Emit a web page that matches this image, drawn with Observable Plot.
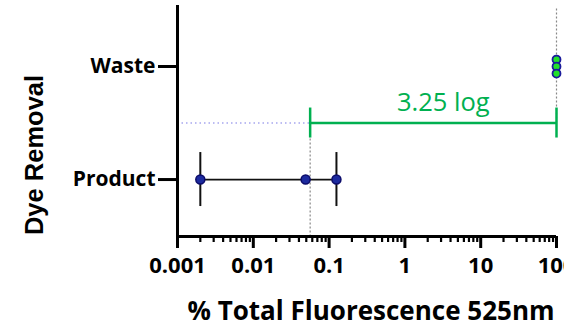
<!DOCTYPE html>
<html>
<head>
<meta charset="utf-8">
<script src="https://cdn.jsdelivr.net/npm/d3@7"></script>
<script src="https://cdn.jsdelivr.net/npm/@observablehq/plot@0.6"></script>
<style>
  html, body { margin: 0; padding: 0; background: #fff; overflow: hidden; }
  #chart { width: 564px; height: 324px; }
</style>
</head>
<body>
<div id="chart"></div>
<script>
// ---- data ----
const groups = ["Product", "Waste"];
const productValues = [0.002, 0.049, 0.125];
const wasteValues = [100, 100, 100];
const logReduction = 3.25;
const logLabel = "3.25 log";
const majorTicks = [0.001, 0.01, 0.1, 1, 10, 100];
const majorLabels = ["0.001", "0.01", "0.1", "1", "10", "100"];
const xTitle = "% Total Fluorescence 525nm";
const yTitle = "Dye Removal";

// ---- derived ----
const minorTicks = majorTicks.slice(0, -1).flatMap(t => [2,3,4,5,6,7,8,9].map(k => k * t));
const iProduct = groups.indexOf("Product");
const iWaste = groups.indexOf("Waste");
const mid = (iProduct + iWaste) / 2;
const wasteTop = d3.max(wasteValues);
const cutoff = wasteTop / Math.pow(10, logReduction);
const yDomain = [-0.504, 1.54];
const xDomain = [majorTicks[0], majorTicks[majorTicks.length - 1]];

const green = "#00b050";
const boldFont = "'Open Sans', sans-serif";

const chart = Plot.plot({
  width: 564,
  height: 324,
  marginLeft: 177,
  marginRight: 8,
  marginTop: 5,
  marginBottom: 88,
  style: {background: "white", overflow: "hidden"},
  x: {type: "log", domain: xDomain, axis: null},
  y: {type: "linear", domain: yDomain, axis: null},
  marks: [
    // dotted reference lines
    Plot.ruleY([mid], {y: d => d, x1: () => xDomain[0], x2: () => cutoff, stroke: "#a6a6ee", strokeWidth: 1.5, strokeDasharray: "1.5,3"}),
    Plot.ruleX([cutoff], {x: d => d, y1: () => mid, y2: () => yDomain[0], stroke: "#888", strokeWidth: 1.2, strokeDasharray: "2,2"}),
    Plot.ruleX([wasteTop], {x: d => d, y1: () => mid, y2: () => yDomain[1], insetBottom: -3, stroke: "#888", strokeWidth: 1.2, strokeDasharray: "2,2"}),
    // green log bracket
    Plot.ruleY([mid], {y: d => d, x1: () => cutoff, x2: () => wasteTop, stroke: green, strokeWidth: 2.5}),
    Plot.ruleX([cutoff, wasteTop], {x: d => d, y1: () => mid, y2: () => mid, insetTop: -15, insetBottom: -15, stroke: green, strokeWidth: 2.5}),
    Plot.text([logLabel], {x: () => Math.sqrt(cutoff * wasteTop), y: () => mid, dx: 10, dy: -20, text: d => d, fill: green, fontSize: 25.5, fontFamily: "'Open Sans', sans-serif", textAnchor: "middle", lineAnchor: "middle"}),
    // product range
    Plot.ruleY([iProduct], {y: d => d, x1: () => d3.min(productValues), x2: () => d3.max(productValues), stroke: "#111", strokeWidth: 1.8}),
    Plot.ruleX([d3.min(productValues), d3.max(productValues)], {x: d => d, y1: () => iProduct, y2: () => iProduct, insetTop: -27, insetBottom: -27, stroke: "#111", strokeWidth: 2}),
    Plot.dot(productValues, {x: d => d, y: () => iProduct, r: 4.5, fill: "#1c2a9e", stroke: "#0b0b6a", strokeWidth: 1.5}),
    // waste points (stacked)
    ...wasteValues.map((v, i) => Plot.dot([v], {x: d => d, y: () => iWaste, dy: (i - (wasteValues.length - 1) / 2) * 7, r: 4, fill: "#22e02a", stroke: "#1a1a9c", strokeWidth: 1.8})),
    // axes lines
    Plot.ruleX([xDomain[0]], {x: d => d, stroke: "#000", strokeWidth: 3}),
    Plot.ruleY([yDomain[0]], {y: d => d, stroke: "#000", strokeWidth: 3}),
    // x axis ticks
    Plot.axisX(minorTicks, {tickSize: 6, strokeWidth: 2.2, tickFormat: () => "", stroke: "#000"}),
    Plot.axisX(majorTicks, {tickSize: 12, strokeWidth: 3, tickPadding: 9, tickFormat: d => majorLabels[majorTicks.indexOf(d)], fontSize: 22, fontWeight: "bold", fontFamily: boldFont, fill: "#000", stroke: "#000"}),
    // y axis ticks
    Plot.axisY([iProduct, iWaste], {tickSize: 19, strokeWidth: 3, tickPadding: 3, tickFormat: i => groups[i], fontSize: 21, fontWeight: "bold", fontFamily: boldFont, fill: "#000", stroke: "#000"}),
    // axis titles
    Plot.text([xTitle], {frameAnchor: "bottom", dx: 4, dy: 75, text: d => d, fontSize: 26, fontWeight: "bold", fontFamily: boldFont, fill: "#000", textAnchor: "middle", lineAnchor: "middle", style: {letterSpacing: "1.3px"}}),
    Plot.text([yTitle], {frameAnchor: "left", rotate: -90, dx: -143, dy: 34, text: d => d, fontSize: 25.5, fontWeight: "bold", fontFamily: "'Liberation Sans', Arial, sans-serif", fill: "#000", textAnchor: "middle", lineAnchor: "middle"})
  ]
});
document.getElementById("chart").appendChild(chart);
</script>
</body>
</html>
